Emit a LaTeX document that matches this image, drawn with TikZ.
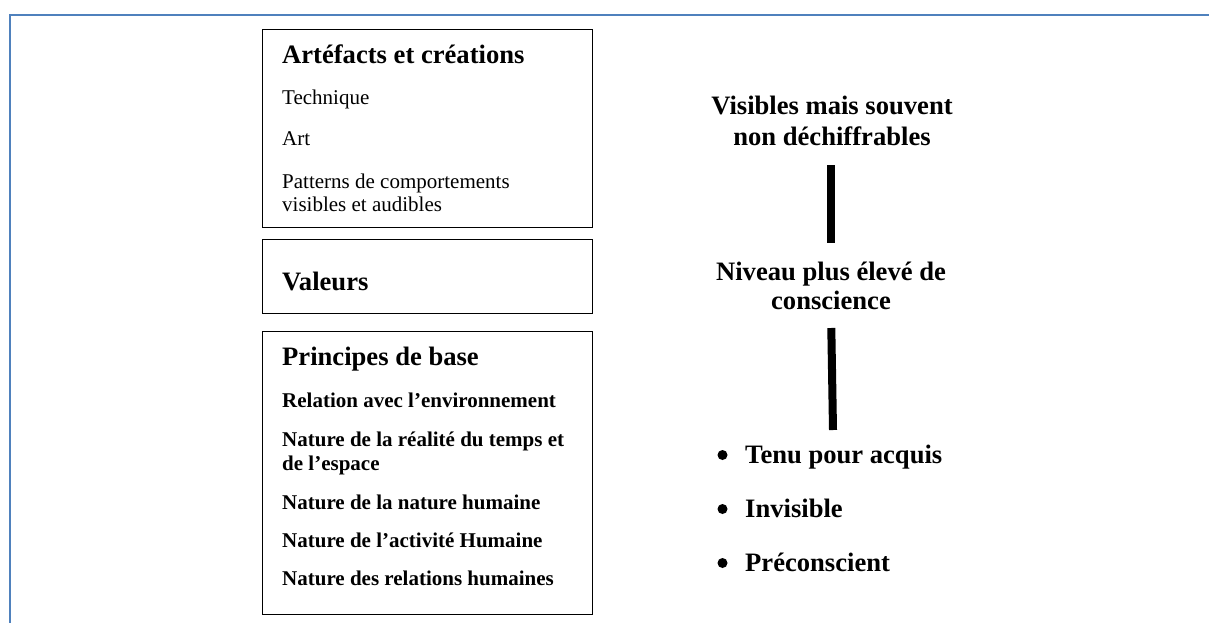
\documentclass[tikz,border=0pt]{standalone}
\usepackage{fontspec}
\setmainfont{Liberation Serif}
\definecolor{frameblue}{HTML}{4F81BD}
\begin{document}
\begin{tikzpicture}[x=1pt,y=-1pt,
  boxnode/.style={draw=black,line width=1pt,rectangle,inner sep=0pt,anchor=north west,minimum width=330pt},
  headtxt/.style={inner sep=0pt,anchor=base west,font=\fontsize{26.6}{30}\selectfont\bfseries},
  bodytxt/.style={inner sep=0pt,anchor=base west,font=\fontsize{21}{23}\selectfont},
  boldtxt/.style={inner sep=0pt,anchor=base west,font=\fontsize{21}{23}\selectfont\bfseries},
  righttxt/.style={inner sep=0pt,anchor=base,font=\fontsize{26.6}{30}\selectfont\bfseries},
  bullettxt/.style={inner sep=0pt,anchor=base west,font=\fontsize{26.6}{30}\selectfont\bfseries},
  bulletdot/.style={circle,fill=black,inner sep=0pt,minimum size=10pt},
  bar/.style={line width=8pt,black}]
\useasboundingbox (0,0) rectangle (1209,623);
\fill[white] (0,0) rectangle (1209,623);
% blue frame
\coordinate (ftl) at (10,15);
\coordinate (ftr) at (1209,15);
\coordinate (fbl) at (10,623);
\draw[frameblue,line width=2.2pt] (ftr) -- (ftl) -- (fbl);
% boxes
\node[boxnode,minimum height=198pt] (box1) at (262,29) {};
\node[boxnode,minimum height=74pt] (box2) at (262,239) {};
\node[boxnode,minimum height=283pt] (box3) at (262,331) {};
% box1 texts
\node[headtxt] (art) at (282,64) {Artéfacts et créations};
\node[bodytxt] (tech) at (282,105) {Technique};
\node[bodytxt] (arttxt) at (282,145) {Art};
\node[bodytxt] (pat1) at (282,188) {Patterns de comportements};
\node[bodytxt] (pat2) at (282,211) {visibles et audibles};
% box2
\node[headtxt] (val) at (282,290) {Valeurs};
% box3
\node[headtxt] (prin) at (282,365) {Principes de base};
\node[boldtxt] (rel) at (282,407) {Relation avec l’environnement};
\node[boldtxt] (nat1a) at (282,446) {Nature de la réalité du temps et};
\node[boldtxt] (nat1b) at (282,470) {de l’espace};
\node[boldtxt] (nat2) at (282,509) {Nature de la nature humaine};
\node[boldtxt] (nat3) at (282,547) {Nature de l’activité Humaine};
\node[boldtxt] (nat4) at (282,585) {Nature des relations humaines};
% right column
\node[righttxt] (vis1) at (832,115) {Visibles mais souvent};
\node[righttxt] (vis2) at (832,145) {non déchiffrables};
\node[righttxt] (niv1) at (831,280) {Niveau plus élevé de};
\node[righttxt] (niv2) at (831,309) {conscience};
\coordinate (b1t) at (831,165);
\coordinate (b1b) at (831,243);
\coordinate (b2t) at (831.3,328);
\coordinate (b2b) at (833,430);
\draw[bar] (b1t) -- (b1b);
\draw[bar] (b2t) -- (b2b);
% bullets
\node[bulletdot] (d1) at (722.5,455) {};
\node[bulletdot] (d2) at (722.5,509) {};
\node[bulletdot] (d3) at (722.5,563) {};
\node[bullettxt] (t1) at (745,463) {Tenu pour acquis};
\node[bullettxt] (t2) at (745,517) {Invisible};
\node[bullettxt] (t3) at (745,571) {Préconscient};
\end{tikzpicture}
\end{document}
